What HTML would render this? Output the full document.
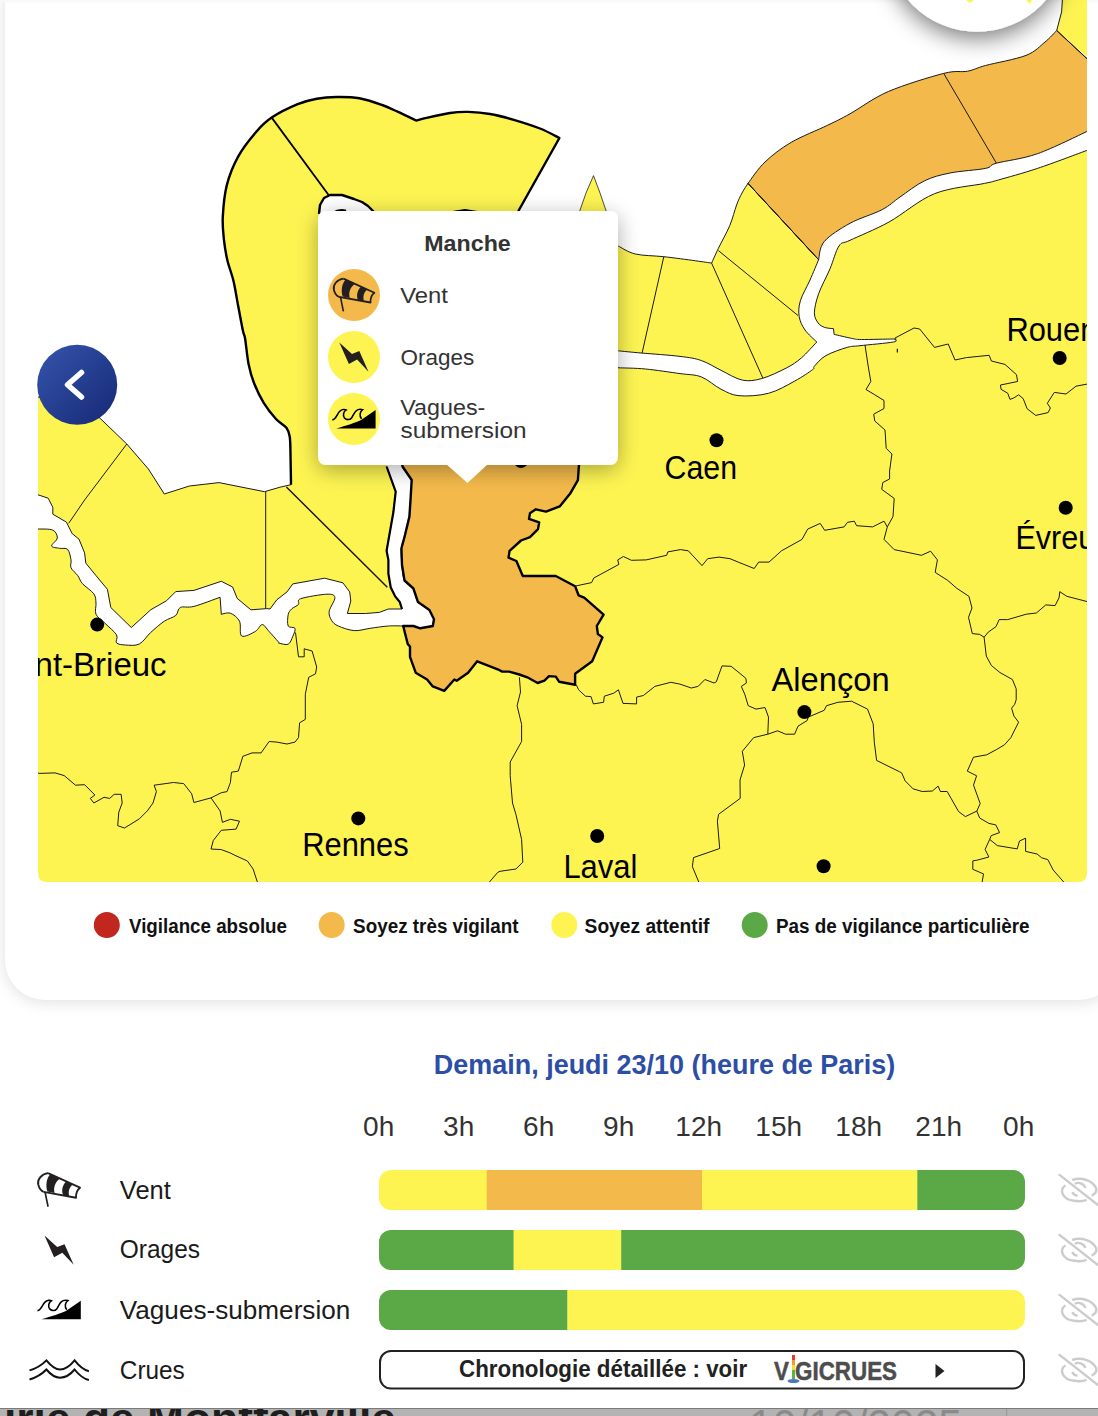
<!DOCTYPE html>
<html><head><meta charset="utf-8"><title>Vigilance</title>
<style>
html,body{margin:0;padding:0;}
body{width:1098px;height:1416px;overflow:hidden;position:relative;background:#fff;font-family:"Liberation Sans",sans-serif;}
.abs{position:absolute;left:0;top:0;}
svg text{font-family:"Liberation Sans",sans-serif;}
#leftstrip{position:absolute;left:0;top:0;width:5px;height:1000px;background:#f3f3f3;}
#topstrip{position:absolute;left:0;top:0;width:1098px;height:4px;background:linear-gradient(#f8f8f8,rgba(255,255,255,0));}
#card{position:absolute;left:5px;top:-40px;width:1114px;height:1040px;background:#fff;border-radius:40px;box-shadow:0 2px 16px rgba(0,0,0,0.13);}
</style></head>
<body>
<div id="card"></div>
<div id="topstrip"></div>
<svg class="abs" width="1098" height="1000" viewBox="0 0 1098 1000">
<defs><clipPath id="mc"><path d="M38,0 H1087 V873 Q1087,882 1078,882 H47 Q38,882 38,873 Z"/></clipPath><linearGradient id="bg1" x1="0" y1="0" x2="1" y2="1"><stop offset="0" stop-color="#3555ad"/><stop offset="1" stop-color="#162874"/></linearGradient><filter id="tsh" x="-20%" y="-20%" width="140%" height="150%"><feGaussianBlur in="SourceAlpha" stdDeviation="11"/><feOffset dy="5"/><feComponentTransfer><feFuncA type="linear" slope="0.33"/></feComponentTransfer><feMerge><feMergeNode/><feMergeNode in="SourceGraphic"/></feMerge></filter><filter id="csh" x="-50%" y="-50%" width="200%" height="200%"><feGaussianBlur in="SourceAlpha" stdDeviation="12"/><feOffset dy="6"/><feComponentTransfer><feFuncA type="linear" slope="0.55"/></feComponentTransfer><feMerge><feMergeNode/><feMergeNode in="SourceGraphic"/></feMerge></filter></defs>
<g clip-path="url(#mc)">
<path d="M38.0,529.0 C40.5,529.2 49.6,528.6 52.8,530.1 C56.0,531.6 57.5,535.4 57.3,538.0 C57.1,540.6 51.2,544.3 51.6,546.0 C52.0,547.7 56.9,547.7 59.6,548.3 C62.3,548.9 65.7,547.5 67.6,549.4 C69.5,551.3 70.4,556.7 71.0,559.7 C71.6,562.8 69.9,565.1 71.0,567.7 C72.1,570.4 75.9,573.0 77.8,575.6 C79.7,578.2 79.7,580.6 82.4,583.6 C85.1,586.6 91.5,590.6 93.8,593.8 C96.1,597.0 95.6,599.6 96.0,603.0 C96.4,606.4 94.5,610.9 96.0,614.3 C97.5,617.7 101.7,620.0 105.1,623.4 C108.5,626.8 114.6,631.6 116.5,634.8 C118.4,638.0 115.0,641.1 116.5,642.8 C118.0,644.5 121.8,644.8 125.6,645.0 C129.4,645.2 135.1,646.1 139.3,644.0 C143.5,641.9 146.5,636.3 150.7,632.5 C154.9,628.7 160.1,624.0 164.3,621.2 C168.5,618.4 173.0,617.8 175.7,615.5 C178.4,613.2 177.3,609.0 180.3,607.5 C183.3,606.0 187.3,608.1 193.9,606.4 C200.5,604.7 215.7,598.8 220.1,597.3 L221.3,614.3 C222.8,614.1 227.4,612.1 230.4,613.2 C233.4,614.4 237.6,617.4 239.5,621.2 C241.4,625.0 239.0,634.3 241.7,636.0 C244.3,637.7 252.0,633.3 255.4,631.4 C258.8,629.5 259.9,624.6 262.2,624.6 C264.5,624.6 266.3,628.5 269.0,631.4 C271.7,634.2 276.5,639.8 278.2,641.7 C279.9,643.7 277.4,642.7 279.1,643.1 C280.8,643.5 285.9,645.3 288.2,644.2 C290.5,643.1 291.7,638.9 292.8,636.3 C293.9,633.6 295.8,630.0 295.0,628.3 C294.2,626.6 289.3,628.3 288.2,626.0 C287.1,623.7 287.6,617.4 288.2,614.6 C288.8,611.8 289.9,610.7 291.6,609.0 C293.3,607.3 297.0,606.1 298.5,604.4 C300.0,602.7 296.0,600.4 300.7,598.7 C305.4,597.0 321.2,594.4 326.9,594.2 C332.6,594.0 334.5,594.8 334.9,597.6 C335.3,600.4 329.8,607.4 329.2,611.2 C328.6,615.0 330.0,617.8 331.5,620.3 C333.0,622.8 334.5,624.3 338.3,626.0 C342.1,627.7 348.9,630.2 354.2,630.6 C359.5,631.0 364.5,629.1 370.2,628.3 C375.9,627.5 382.9,626.4 388.4,626.0 C393.9,625.6 400.7,626.0 403.2,626.0 C404.9,626.0 410.5,625.6 413.4,626.0 C416.2,626.4 417.1,628.3 420.3,628.3 C423.5,628.3 430.7,626.4 432.8,626.0 C433.0,624.9 434.6,621.9 434.0,619.2 C433.4,616.5 432.1,612.9 429.4,610.0 C426.7,607.1 420.7,605.7 418.0,602.1 C415.3,598.5 415.6,592.1 413.4,588.5 C411.1,584.9 406.4,584.4 404.5,580.5 C402.6,576.6 402.5,570.3 402.0,565.0 C401.5,559.7 400.9,553.5 401.4,548.5 C401.9,543.5 403.7,540.3 405.0,535.0 C406.3,529.7 408.5,522.4 409.4,516.6 C410.3,510.8 410.1,506.1 410.5,500.0 C410.9,493.9 413.0,485.6 411.7,480.0 C410.4,474.4 404.8,473.2 402.5,466.5 C400.2,459.8 399.8,451.1 398.0,440.0 C396.2,428.9 393.7,416.7 392.0,400.0 C390.3,383.3 388.0,360.0 388.0,340.0 C388.0,320.0 388.3,296.7 392.0,280.0 C395.7,263.3 402.0,250.7 410.0,240.0 C418.0,229.3 430.8,220.8 440.0,216.0 C449.2,211.2 456.7,211.0 465.0,211.0 C473.3,211.0 480.8,212.5 490.0,216.0 C499.2,219.5 509.2,223.0 520.0,232.0 C530.8,241.0 545.8,255.3 555.0,270.0 C564.2,284.7 569.2,306.7 575.0,320.0 C580.8,333.3 584.2,344.7 590.0,350.0 C595.8,355.3 606.7,351.7 610.0,352.0 L618.2,367.8 C622.8,368.0 635.2,368.0 645.5,369.0 C655.8,370.0 670.7,372.3 680.0,373.6 C689.3,374.9 694.5,374.3 701.3,376.9 C708.1,379.5 714.7,386.1 721.0,389.2 C727.3,392.3 731.1,395.0 739.0,395.7 C746.9,396.4 759.2,395.8 768.5,393.3 C777.8,390.9 787.4,385.0 794.8,381.0 C802.2,377.0 809.5,372.0 812.8,369.5 C816.1,367.0 812.2,368.5 814.4,366.2 C816.6,363.9 820.4,358.7 825.9,355.6 C831.4,352.5 841.5,349.0 847.2,347.4 C852.9,345.8 852.3,346.6 860.0,345.7 C867.7,344.8 887.7,343.1 893.5,342.0 C899.3,340.9 894.5,339.8 894.7,339.4 C894.5,339.3 899.0,339.0 893.5,339.0 C888.0,339.0 868.5,339.6 861.5,339.5 C854.5,339.4 856.0,339.2 851.4,338.3 C846.8,337.4 837.0,335.0 834.1,334.4 L833.5,328.7 C832.0,328.5 827.1,328.3 824.6,327.4 C822.1,326.4 819.9,325.4 818.2,323.0 C816.5,320.6 814.3,317.7 814.4,312.8 C814.5,307.9 816.0,301.1 818.6,293.8 C821.2,286.5 826.6,276.8 830.0,268.8 C833.4,260.8 835.7,250.8 839.0,246.0 C842.3,241.2 841.7,244.3 850.0,240.3 C858.3,236.3 874.9,229.8 889.0,222.0 C903.1,214.2 918.6,200.1 934.5,193.7 C950.4,187.3 974.0,185.7 984.6,183.4 C995.2,181.1 989.5,182.5 998.3,180.0 C1007.1,177.5 1022.5,173.4 1037.5,168.4 C1052.5,163.4 1079.6,153.1 1088.0,150.0 L1088.0,890.0 L30.0,890.0 L30.0,529.0Z" fill="#fdf452"/>
<path d="M30,397 L38.0,397.0 L70.0,402.0 L98.3,416.6 L126.8,444.0 L148.4,469.0 L164.3,494.0 L189.4,486.0 L219.0,482.6 L264.5,491.7 L280.0,487.2 L291.0,484.7 C290.9,480.6 290.8,467.9 290.6,460.0 C290.4,452.1 290.5,442.4 289.8,437.0 C289.1,431.6 288.7,430.8 286.4,427.8 C284.1,424.8 279.8,423.2 276.0,419.0 C272.2,414.8 267.4,408.8 263.7,402.8 C260.0,396.8 256.5,389.4 254.0,383.0 C251.5,376.6 250.1,371.5 248.6,364.2 C247.1,356.9 246.1,344.7 245.2,339.2 C244.3,333.7 244.2,336.7 243.0,331.0 C241.8,325.3 239.6,313.3 238.0,305.0 C236.4,296.7 235.3,288.5 233.5,281.0 C231.7,273.5 228.9,266.8 227.3,259.9 C225.7,253.0 224.7,246.6 223.9,239.4 C223.2,232.2 222.3,225.6 222.8,216.6 C223.3,207.6 224.2,195.6 226.7,185.6 C229.2,175.6 233.1,165.7 238.0,156.8 C242.9,147.9 250.5,138.5 256.1,132.0 C261.7,125.5 264.8,122.2 271.7,117.6 C278.6,113.0 290.2,107.3 297.7,104.2 C305.2,101.1 310.3,100.0 316.8,98.8 C323.3,97.6 329.5,97.1 336.6,97.0 C343.7,96.9 351.8,96.9 359.4,98.2 C367.0,99.5 375.8,102.7 382.2,105.0 C388.6,107.3 392.3,109.3 398.0,111.9 C403.7,114.5 413.2,119.1 416.3,120.5 C418.2,120.0 422.1,118.8 427.7,117.6 C433.3,116.3 443.2,114.0 450.0,113.0 C456.8,112.0 461.6,111.7 468.3,111.9 C475.0,112.1 482.4,112.7 490.0,114.0 C497.6,115.3 505.5,117.4 513.8,119.8 C522.1,122.2 532.4,125.5 540.0,128.5 C547.6,131.5 556.2,136.4 559.4,138.0 L518.4,211.0 L500.0,240.0 L470.0,260.0 L420.0,280.0 L386.0,330.0 L382.0,400.0 L386.6,466.5 L395.7,491.6 L393.4,512.0 L386.6,550.8 L388.4,560.0 L388.4,573.7 L390.7,587.3 L395.2,596.4 L399.8,602.1 L402.0,609.0 L388.4,609.0 L379.3,612.4 L365.6,613.5 L347.4,613.5 L350.8,601.0 L349.7,591.9 L342.9,582.8 L324.6,578.2 L292.8,583.9 L287.0,591.9 L276.8,599.8 L270.0,609.0 L266.8,608.6 L250.9,609.8 L237.2,598.4 L232.6,587.0 L221.3,581.3 L193.9,590.4 L175.7,591.6 L166.6,600.7 L150.7,609.8 L131.3,627.5 L110.8,607.5 L107.4,589.3 L96.0,575.6 L85.8,563.1 L84.6,552.9 L79.0,539.2 L72.1,533.5 L66.4,522.1 L52.8,514.2 L52.8,507.3 L48.2,498.2 L38.0,494.8 L30.0,494.8Z" fill="#fdf452"/>
<path d="M600.0,246.0 L618.2,246.0 C621.1,247.3 627.7,252.2 635.3,254.0 C642.9,255.8 653.8,255.6 663.8,256.7 C673.8,257.8 687.6,259.7 695.6,260.8 C703.6,261.9 708.9,262.7 711.6,263.1 C712.7,260.6 715.4,254.6 718.4,248.3 C721.4,242.0 726.8,232.7 729.8,225.5 C732.8,218.3 734.6,210.4 736.6,205.0 C738.6,199.6 740.1,196.6 742.0,193.0 C743.9,189.4 747.0,185.0 748.0,183.4 L818.6,259.7 C817.2,263.1 813.0,273.2 810.0,280.0 C807.0,286.8 802.2,294.6 800.4,300.7 C798.6,306.8 798.4,311.7 799.2,316.6 C800.0,321.5 802.1,325.8 805.0,330.0 C807.9,334.2 814.8,340.0 816.8,342.0 C814.2,344.7 806.3,353.7 801.3,358.0 C796.2,362.3 793.1,364.5 786.5,367.9 C779.9,371.3 769.3,376.5 761.9,378.5 C754.5,380.5 749.1,381.5 742.3,380.1 C735.5,378.7 727.8,373.6 721.0,370.3 C714.2,367.0 708.1,362.8 701.3,360.5 C694.5,358.2 690.0,357.6 680.0,356.4 C670.0,355.1 651.3,353.9 641.0,353.0 C630.7,352.1 622.0,351.2 618.2,350.8 L600.0,350.0Z" fill="#fdf452"/>
<path d="M578.7,214.0 L586.0,193.0 L593.5,175.6 L600.0,193.0 L607.2,214.0Z" fill="#fdf452" stroke="#222" stroke-width="0.8"/>
<path d="M748.0,183.4 C750.8,179.8 757.8,168.8 765.0,162.0 C772.2,155.2 780.8,148.4 791.3,142.3 C801.8,136.2 817.9,130.0 827.7,125.2 C837.5,120.5 839.9,119.4 850.0,113.8 C860.1,108.2 872.8,98.2 888.4,91.5 C904.0,84.8 930.5,76.8 943.7,73.4 C956.9,70.0 960.5,72.5 967.5,71.2 C974.5,69.9 975.8,68.1 985.5,65.5 C995.2,62.9 1016.1,59.3 1026.0,55.4 C1035.9,51.5 1039.9,46.1 1045.0,42.0 C1050.1,37.9 1054.8,32.4 1056.7,30.5 L1088.0,59.5 L1088.0,131.0 C1079.6,134.8 1052.8,148.3 1037.5,153.7 C1022.2,159.1 1005.1,160.8 996.4,163.2 C987.7,165.6 993.2,166.8 985.5,168.4 C977.8,170.0 960.2,170.9 950.0,173.0 C939.8,175.1 932.8,176.8 924.5,180.8 C916.2,184.8 907.0,192.2 900.0,197.0 C893.0,201.8 890.5,205.2 882.2,209.6 C873.9,214.0 859.6,218.0 850.0,223.3 C840.4,228.6 829.5,235.4 824.3,241.5 C819.1,247.6 819.5,256.7 818.6,259.7Z" fill="#f3b94b"/>
<path d="M1056.7,30.5 L1061.6,11.9 L1062.7,-5.0 L1090.0,-5.0 L1090.0,59.5Z" fill="#fdf452"/>
<g fill="none" stroke="#1a1a1a" stroke-width="1.0" stroke-linejoin="round">
<path d="M38.0,529.0 C40.5,529.2 49.6,528.6 52.8,530.1 C56.0,531.6 57.5,535.4 57.3,538.0 C57.1,540.6 51.2,544.3 51.6,546.0 C52.0,547.7 56.9,547.7 59.6,548.3 C62.3,548.9 65.7,547.5 67.6,549.4 C69.5,551.3 70.4,556.7 71.0,559.7 C71.6,562.8 69.9,565.1 71.0,567.7 C72.1,570.4 75.9,573.0 77.8,575.6 C79.7,578.2 79.7,580.6 82.4,583.6 C85.1,586.6 91.5,590.6 93.8,593.8 C96.1,597.0 95.6,599.6 96.0,603.0 C96.4,606.4 94.5,610.9 96.0,614.3 C97.5,617.7 101.7,620.0 105.1,623.4 C108.5,626.8 114.6,631.6 116.5,634.8 C118.4,638.0 115.0,641.1 116.5,642.8 C118.0,644.5 121.8,644.8 125.6,645.0 C129.4,645.2 135.1,646.1 139.3,644.0 C143.5,641.9 146.5,636.3 150.7,632.5 C154.9,628.7 160.1,624.0 164.3,621.2 C168.5,618.4 173.0,617.8 175.7,615.5 C178.4,613.2 177.3,609.0 180.3,607.5 C183.3,606.0 187.3,608.1 193.9,606.4 C200.5,604.7 215.7,598.8 220.1,597.3 L221.3,614.3 C222.8,614.1 227.4,612.1 230.4,613.2 C233.4,614.4 237.6,617.4 239.5,621.2 C241.4,625.0 239.0,634.3 241.7,636.0 C244.3,637.7 252.0,633.3 255.4,631.4 C258.8,629.5 259.9,624.6 262.2,624.6 C264.5,624.6 266.3,628.5 269.0,631.4 C271.7,634.2 276.5,639.8 278.2,641.7 C279.9,643.7 277.4,642.7 279.1,643.1 C280.8,643.5 285.9,645.3 288.2,644.2 C290.5,643.1 291.7,638.9 292.8,636.3 C293.9,633.6 295.8,630.0 295.0,628.3 C294.2,626.6 289.3,628.3 288.2,626.0 C287.1,623.7 287.6,617.4 288.2,614.6 C288.8,611.8 289.9,610.7 291.6,609.0 C293.3,607.3 297.0,606.1 298.5,604.4 C300.0,602.7 296.0,600.4 300.7,598.7 C305.4,597.0 321.2,594.4 326.9,594.2 C332.6,594.0 334.5,594.8 334.9,597.6 C335.3,600.4 329.8,607.4 329.2,611.2 C328.6,615.0 330.0,617.8 331.5,620.3 C333.0,622.8 334.5,624.3 338.3,626.0 C342.1,627.7 348.9,630.2 354.2,630.6 C359.5,631.0 364.5,629.1 370.2,628.3 C375.9,627.5 382.9,626.4 388.4,626.0 C393.9,625.6 400.7,626.0 403.2,626.0 C404.9,626.0 410.5,625.6 413.4,626.0 C416.2,626.4 417.1,628.3 420.3,628.3 C423.5,628.3 430.7,626.4 432.8,626.0 C433.0,624.9 434.6,621.9 434.0,619.2 C433.4,616.5 432.1,612.9 429.4,610.0 C426.7,607.1 420.7,605.7 418.0,602.1 C415.3,598.5 415.6,592.1 413.4,588.5 C411.1,584.9 406.4,584.4 404.5,580.5 C402.6,576.6 402.5,570.3 402.0,565.0 C401.5,559.7 400.9,553.5 401.4,548.5 C401.9,543.5 403.7,540.3 405.0,535.0 C406.3,529.7 408.5,522.4 409.4,516.6 C410.3,510.8 410.1,506.1 410.5,500.0 C410.9,493.9 413.0,485.6 411.7,480.0 C410.4,474.4 404.8,473.2 402.5,466.5 C400.2,459.8 399.8,451.1 398.0,440.0 C396.2,428.9 393.7,416.7 392.0,400.0 C390.3,383.3 388.0,360.0 388.0,340.0 C388.0,320.0 388.3,296.7 392.0,280.0 C395.7,263.3 402.0,250.7 410.0,240.0 C418.0,229.3 430.8,220.8 440.0,216.0 C449.2,211.2 456.7,211.0 465.0,211.0 C473.3,211.0 480.8,212.5 490.0,216.0 C499.2,219.5 509.2,223.0 520.0,232.0 C530.8,241.0 545.8,255.3 555.0,270.0 C564.2,284.7 569.2,306.7 575.0,320.0 C580.8,333.3 584.2,344.7 590.0,350.0 C595.8,355.3 606.7,351.7 610.0,352.0 L618.2,367.8 C622.8,368.0 635.2,368.0 645.5,369.0 C655.8,370.0 670.7,372.3 680.0,373.6 C689.3,374.9 694.5,374.3 701.3,376.9 C708.1,379.5 714.7,386.1 721.0,389.2 C727.3,392.3 731.1,395.0 739.0,395.7 C746.9,396.4 759.2,395.8 768.5,393.3 C777.8,390.9 787.4,385.0 794.8,381.0 C802.2,377.0 809.5,372.0 812.8,369.5 C816.1,367.0 812.2,368.5 814.4,366.2 C816.6,363.9 820.4,358.7 825.9,355.6 C831.4,352.5 841.5,349.0 847.2,347.4 C852.9,345.8 852.3,346.6 860.0,345.7 C867.7,344.8 887.7,343.1 893.5,342.0 C899.3,340.9 894.5,339.8 894.7,339.4 C894.5,339.3 899.0,339.0 893.5,339.0 C888.0,339.0 868.5,339.6 861.5,339.5 C854.5,339.4 856.0,339.2 851.4,338.3 C846.8,337.4 837.0,335.0 834.1,334.4 L833.5,328.7 C832.0,328.5 827.1,328.3 824.6,327.4 C822.1,326.4 819.9,325.4 818.2,323.0 C816.5,320.6 814.3,317.7 814.4,312.8 C814.5,307.9 816.0,301.1 818.6,293.8 C821.2,286.5 826.6,276.8 830.0,268.8 C833.4,260.8 835.7,250.8 839.0,246.0 C842.3,241.2 841.7,244.3 850.0,240.3 C858.3,236.3 874.9,229.8 889.0,222.0 C903.1,214.2 918.6,200.1 934.5,193.7 C950.4,187.3 974.0,185.7 984.6,183.4 C995.2,181.1 989.5,182.5 998.3,180.0 C1007.1,177.5 1022.5,173.4 1037.5,168.4 C1052.5,163.4 1079.6,153.1 1088.0,150.0"/>
<path d="M618.2,246.0 C621.1,247.3 627.7,252.2 635.3,254.0 C642.9,255.8 653.8,255.6 663.8,256.7 C673.8,257.8 687.6,259.7 695.6,260.8 C703.6,261.9 708.9,262.7 711.6,263.1 C712.7,260.6 715.4,254.6 718.4,248.3 C721.4,242.0 726.8,232.7 729.8,225.5 C732.8,218.3 734.6,210.4 736.6,205.0 C738.6,199.6 740.1,196.6 742.0,193.0 C743.9,189.4 747.0,185.0 748.0,183.4 L818.6,259.7 C817.2,263.1 813.0,273.2 810.0,280.0 C807.0,286.8 802.2,294.6 800.4,300.7 C798.6,306.8 798.4,311.7 799.2,316.6 C800.0,321.5 802.1,325.8 805.0,330.0 C807.9,334.2 814.8,340.0 816.8,342.0 C814.2,344.7 806.3,353.7 801.3,358.0 C796.2,362.3 793.1,364.5 786.5,367.9 C779.9,371.3 769.3,376.5 761.9,378.5 C754.5,380.5 749.1,381.5 742.3,380.1 C735.5,378.7 727.8,373.6 721.0,370.3 C714.2,367.0 708.1,362.8 701.3,360.5 C694.5,358.2 690.0,357.6 680.0,356.4 C670.0,355.1 651.3,353.9 641.0,353.0 C630.7,352.1 622.0,351.2 618.2,350.8"/>
<path d="M748.0,183.4 C750.8,179.8 757.8,168.8 765.0,162.0 C772.2,155.2 780.8,148.4 791.3,142.3 C801.8,136.2 817.9,130.0 827.7,125.2 C837.5,120.5 839.9,119.4 850.0,113.8 C860.1,108.2 872.8,98.2 888.4,91.5 C904.0,84.8 930.5,76.8 943.7,73.4 C956.9,70.0 960.5,72.5 967.5,71.2 C974.5,69.9 975.8,68.1 985.5,65.5 C995.2,62.9 1016.1,59.3 1026.0,55.4 C1035.9,51.5 1039.9,46.1 1045.0,42.0 C1050.1,37.9 1054.8,32.4 1056.7,30.5 L1088.0,59.5 L1088.0,131.0 C1079.6,134.8 1052.8,148.3 1037.5,153.7 C1022.2,159.1 1005.1,160.8 996.4,163.2 C987.7,165.6 993.2,166.8 985.5,168.4 C977.8,170.0 960.2,170.9 950.0,173.0 C939.8,175.1 932.8,176.8 924.5,180.8 C916.2,184.8 907.0,192.2 900.0,197.0 C893.0,201.8 890.5,205.2 882.2,209.6 C873.9,214.0 859.6,218.0 850.0,223.3 C840.4,228.6 829.5,235.4 824.3,241.5 C819.1,247.6 819.5,256.7 818.6,259.7Z"/>
<path d="M38.0,397.0 L70.0,402.0 L98.3,416.6 L126.8,444.0 L148.4,469.0 L164.3,494.0 L189.4,486.0 L219.0,482.6 L264.5,491.7 L280.0,487.2 L291.0,484.7"/>
<path d="M386.6,466.5 L395.7,491.6 L393.4,512.0 L386.6,550.8 L388.4,560.0 L388.4,573.7 L390.7,587.3 L395.2,596.4 L399.8,602.1 L402.0,609.0 L388.4,609.0 L379.3,612.4 L365.6,613.5 L347.4,613.5 L350.8,601.0 L349.7,591.9 L342.9,582.8 L324.6,578.2 L292.8,583.9 L287.0,591.9 L276.8,599.8 L270.0,609.0 L266.8,608.6 L250.9,609.8 L237.2,598.4 L232.6,587.0 L221.3,581.3 L193.9,590.4 L175.7,591.6 L166.6,600.7 L150.7,609.8 L131.3,627.5 L110.8,607.5 L107.4,589.3 L96.0,575.6 L85.8,563.1 L84.6,552.9 L79.0,539.2 L72.1,533.5 L66.4,522.1 L52.8,514.2 L52.8,507.3 L48.2,498.2 L38.0,494.8 L30.0,494.8"/>
<path d="M1056.7,30.5 L1061.6,11.9 L1062.7,-5.0"/>
<path d="M126.8,444.0 L84.6,500.0 L68.7,523.3"/>
<path d="M265.7,491.5 L265.7,608.6"/>
<path d="M663.8,256.7 L642.1,353.0"/>
<path d="M711.6,263.1 L762.8,378.0"/>
<path d="M718.4,250.6 L798.0,315.5"/>
<path d="M748.0,183.4 L818.6,259.7"/>
<path d="M943.7,73.4 L996.4,163.2"/>
<path d="M1056.7,30.5 L1087.0,58.8"/>
<path d="M575.6,586.0 L591.6,582.6 L593.8,578.0 L618.9,564.4 L617.7,559.9 L623.4,556.5 L631.4,560.3 L646.2,559.9 L666.7,555.3 L667.8,551.9 L680.4,549.6 L688.3,550.8 L702.0,565.6 L707.7,558.7 L719.0,557.1 L730.0,558.7 L738.2,562.1 L754.2,568.5 L758.7,562.1 L769.0,562.1 L781.5,550.8 L802.0,539.4 L807.7,529.1 L820.2,523.4 L824.7,530.3 L844.1,526.9 L847.5,522.3 L854.3,521.2 L856.6,525.7 L872.6,526.9 L884.0,521.2 L887.3,526.9"/>
<path d="M865.0,345.0 L868.0,365.0 L870.8,381.5 L866.0,389.5 L874.8,394.8 L884.0,400.5 L884.0,408.5 L873.7,414.2 L874.8,421.0 L885.0,430.0 L886.2,448.3 L891.9,454.0 L889.6,471.0 L889.6,479.0 L882.8,482.5 L881.7,489.3 L894.2,498.4 L893.0,516.6 L887.3,526.9 L884.0,539.4 L894.2,549.6 L921.5,555.3 L930.6,551.2 L937.4,559.9 L935.2,572.4 L947.7,580.4 L956.8,588.3 L968.9,596.3 L972.0,608.0 L968.5,617.3 L972.3,633.6 L979.7,634.4 L984.1,637.2 L986.3,656.1 L991.4,665.5 L999.9,672.5 L1012.4,679.5 L1016.2,688.8 L1016.2,699.7 L1014.7,704.3 L1011.6,708.2 L1013.9,716.0 L1018.6,722.2 L1010.8,737.7 L1004.6,744.7 L996.8,749.4 L986.7,754.8 L973.5,757.2 L967.3,771.1 L976.6,775.8 L973.5,785.1 L980.2,803.6 L976.8,811.1 L979.7,818.0 L988.9,823.4 L995.8,824.9 L999.6,832.6 L991.2,835.6 L989.7,839.4 L985.1,849.4 L988.9,857.0 L977.4,860.1 L972.8,860.9 L972.8,869.3 L983.5,873.9 L982.0,883.0"/>
<path d="M989.7,839.4 L997.3,845.6 L1017.2,848.9 L1019.5,841.0 L1025.6,838.2 L1025.6,851.4 L1037.1,854.0 L1041.7,857.8 L1047.8,859.6 L1053.2,870.0 L1064.6,883.0"/>
<path d="M984.1,637.2 L988.3,632.1 L996.0,626.6 L999.2,619.6 L1007.7,619.6 L1026.3,614.2 L1036.4,613.0 L1045.8,604.9 L1055.1,605.6 L1059.0,597.9 L1059.8,591.7 L1066.8,596.3 L1088.0,601.8"/>
<path d="M894.7,338.2 L914.0,328.0 L919.7,329.0 L934.5,347.4 L948.2,344.0 L955.0,360.0 L966.4,357.6 L989.2,355.3 L991.4,361.0 L1005.0,364.4 L1016.5,374.7 L1017.6,381.5 L1000.5,385.0 L1001.0,389.3 L1007.7,393.2 L1010.0,399.4 L1013.9,397.9 L1018.6,394.8 L1023.2,398.6 L1027.1,408.7 L1035.7,415.4 L1048.1,412.6 L1050.4,408.0 L1047.3,403.3 L1054.3,392.4 L1066.0,394.0 L1076.0,386.2 L1088.0,383.9"/>
<path d="M576.3,684.8 L578.6,689.8 L585.4,696.2 L591.0,696.6 L593.4,703.9 L603.6,702.3 L604.3,696.2 L613.8,693.2 L618.4,689.8 L623.0,703.4 L636.6,703.9 L636.6,697.1 L643.4,695.5 L654.8,686.4 L670.8,682.3 L679.9,684.1 L691.3,688.0 L698.1,686.4 L704.9,679.5 L714.0,683.0 L716.3,681.8 L722.0,665.9 L731.1,666.3 L739.1,672.7 L745.9,678.4 L746.4,683.0 L741.3,686.4 L744.8,694.3 L748.2,705.7 L756.0,709.1 L765.0,707.5 L768.5,717.1 L767.8,734.2 L777.6,730.8 L785.5,734.2 L794.6,734.2 L798.0,726.2 L807.2,720.5 L808.3,717.1 L824.2,710.3 L826.5,705.7 L837.9,702.3 L851.6,701.2 L867.5,709.1 L873.2,723.9 L874.3,742.2 L876.6,760.4 L899.4,771.7 L901.7,772.9 L905.1,780.8 L913.0,788.8 L922.2,791.5 L932.4,791.0 L938.1,786.1 L940.4,791.5 L947.2,791.5 L958.6,811.6 L965.4,816.6 L976.8,811.1"/>
<path d="M767.8,734.2 L753.7,737.6 L742.3,751.3 L744.6,765.0 L740.0,780.0 L740.2,798.4 L718.6,814.3 L717.4,821.2 L719.7,848.5 L693.5,857.6 L692.4,866.7 L699.2,883.0"/>
<path d="M519.4,677.3 L520.5,692.0 L517.1,705.7 L521.6,724.4 L521.6,741.5 L510.2,762.0 L510.2,775.6 L512.5,803.0 L515.9,814.3 L521.6,839.4 L522.8,862.2 L515.9,869.0 L500.0,871.3 L497.7,872.4 L488.6,883.0"/>
<path d="M30.0,770.0 L39.1,773.4 L55.0,772.9 L64.2,775.6 L75.5,785.2 L84.6,784.7 L94.9,795.0 L90.3,798.4 L93.8,803.0 L104.0,797.3 L109.7,798.4 L114.2,794.3 L121.1,794.3 L122.2,803.0 L118.8,812.1 L117.7,825.7 L124.5,828.0 L139.3,818.9 L147.3,810.9 L153.0,803.0 L156.4,791.6 L154.1,785.2 L173.4,782.5 L183.7,783.6 L191.7,793.8 L193.9,802.5 L211.0,797.9 L221.3,792.7 L227.0,791.6 L230.4,782.5 L231.5,772.2 L238.3,771.1 L242.9,756.3 L252.0,752.9 L261.1,752.9 L269.1,741.5 L276.8,742.1 L287.0,744.0 L295.0,742.1 L298.5,737.6 L299.6,722.8 L305.3,719.4 L305.3,694.3 L308.7,677.3 L315.5,673.8 L316.7,667.0 L312.1,651.0 L304.2,648.8 L304.2,656.8 L298.5,656.8 L295.5,632.5"/>
<path d="M211.0,797.9 L220.1,810.9 L222.4,822.3 L230.4,819.3 L239.5,821.2 L236.1,829.1 L221.3,830.3 L213.3,840.5 L211.0,849.0 L221.3,849.6 L230.4,853.0 L234.9,855.3 L247.4,861.0 L253.1,869.0 L257.7,883.0"/>
</g>
<path d="M403.2,626.0 L407.8,644.2 L410.0,646.5 L410.0,656.8 L415.7,672.7 L427.1,679.5 L432.8,686.4 L444.2,690.9 L454.4,679.5 L456.7,680.7 L468.1,672.7 L477.2,661.3 L497.7,669.3 L502.2,671.6 L509.1,671.6 L519.4,674.5 L527.3,677.3 L537.6,683.0 L544.4,680.7 L549.0,676.1 L555.8,676.6 L559.2,681.8 L575.1,684.8 L575.1,673.8 L592.2,661.3 L602.5,637.4 L597.9,634.0 L596.8,626.0 L603.6,614.6 L584.2,597.6 L578.6,595.3 L575.1,586.2 L555.8,576.0 L522.8,576.0 L516.4,561.0 L508.5,557.6 L509.6,550.8 L521.0,540.5 L530.0,537.1 L538.0,529.1 L539.2,522.3 L529.0,518.9 L530.0,513.2 L535.8,509.3 L546.0,511.6 L559.7,506.4 L570.0,493.8 L577.9,480.2 L579.0,464.7 L583.0,430.0 L580.0,380.0 L565.0,320.0 L540.0,270.0 L510.0,235.0 L485.0,213.5 L465.0,210.2 L445.0,213.5 L415.0,235.0 L398.0,280.0 L394.0,340.0 L396.0,400.0 L400.0,440.0 L402.5,466.5 L411.7,480.0 L410.5,500.0 L409.4,516.6 L405.0,535.0 L401.4,548.5 L402.0,565.0 L404.5,580.5 L413.4,588.5 L418.0,602.1 L429.4,610.0 L434.0,619.2 L432.8,626.0 L420.3,628.3 L413.4,626.0Z" fill="#f3b94b" stroke="#000" stroke-width="2.4" stroke-linejoin="round"/>
<path d="M291,484.7 C290.9,480.6 290.8,467.9 290.6,460.0 C290.4,452.1 290.5,442.4 289.8,437.0 C289.1,431.6 288.7,430.8 286.4,427.8 C284.1,424.8 279.8,423.2 276.0,419.0 C272.2,414.8 267.4,408.8 263.7,402.8 C260.0,396.8 256.5,389.4 254.0,383.0 C251.5,376.6 250.1,371.5 248.6,364.2 C247.1,356.9 246.1,344.7 245.2,339.2 C244.3,333.7 244.2,336.7 243.0,331.0 C241.8,325.3 239.6,313.3 238.0,305.0 C236.4,296.7 235.3,288.5 233.5,281.0 C231.7,273.5 228.9,266.8 227.3,259.9 C225.7,253.0 224.7,246.6 223.9,239.4 C223.2,232.2 222.3,225.6 222.8,216.6 C223.3,207.6 224.2,195.6 226.7,185.6 C229.2,175.6 233.1,165.7 238.0,156.8 C242.9,147.9 250.5,138.5 256.1,132.0 C261.7,125.5 264.8,122.2 271.7,117.6 C278.6,113.0 290.2,107.3 297.7,104.2 C305.2,101.1 310.3,100.0 316.8,98.8 C323.3,97.6 329.5,97.1 336.6,97.0 C343.7,96.9 351.8,96.9 359.4,98.2 C367.0,99.5 375.8,102.7 382.2,105.0 C388.6,107.3 392.3,109.3 398.0,111.9 C403.7,114.5 413.2,119.1 416.3,120.5 C418.2,120.0 422.1,118.8 427.7,117.6 C433.3,116.3 443.2,114.0 450.0,113.0 C456.8,112.0 461.6,111.7 468.3,111.9 C475.0,112.1 482.4,112.7 490.0,114.0 C497.6,115.3 505.5,117.4 513.8,119.8 C522.1,122.2 532.4,125.5 540.0,128.5 C547.6,131.5 556.2,136.4 559.4,138.0 L518.4,211 L505,235" fill="none" stroke="#000" stroke-width="2.4" stroke-linejoin="round"/>
<path d="M319.0,214.0 L320.0,205.0 L324.0,198.0 L330.0,195.0 L342.0,195.0 L354.0,199.0 L362.0,202.0 L368.0,206.0 L376.0,214.0" fill="#fff" stroke="#000" stroke-width="2.4" stroke-linejoin="round"/>
<path d="M286.4,487 L387.3,587.3" stroke="#111" stroke-width="1.4" fill="none"/>
<path d="M271.7,117.6 L328.6,195" stroke="#000" stroke-width="1.8" fill="none"/>
<path d="M386.6,466.5 L395.7,491.6 L393.4,512.0 L386.6,550.8 L388.4,560.0 L388.4,573.7 L390.7,587.3 L395.2,596.4 L399.8,602.1 L402.0,609.0" fill="none" stroke="#000" stroke-width="2.2"/>
<path d="M897.3,348.8 V352.6" stroke="#000" stroke-width="1.1"/>
<path d="M333,213 Q339,209 346,210.8" stroke="#000" stroke-width="2.4" fill="none"/>
<circle cx="521" cy="461" r="7" fill="#000"/>
<circle cx="716.5" cy="440.3" r="7" fill="#000"/>
<circle cx="1059.7" cy="358" r="7" fill="#000"/>
<circle cx="1065.7" cy="507.7" r="7" fill="#000"/>
<circle cx="97.2" cy="624.6" r="7" fill="#000"/>
<circle cx="804.4" cy="712.1" r="7" fill="#000"/>
<circle cx="358.3" cy="818.4" r="7" fill="#000"/>
<circle cx="597.2" cy="836" r="7" fill="#000"/>
<circle cx="823.6" cy="866.2" r="7" fill="#000"/>
<text x="1006.4" y="341" font-size="33" fill="#000" textLength="91" lengthAdjust="spacingAndGlyphs">Rouen</text>
<text x="664.6" y="479" font-size="33" fill="#000" textLength="72.5" lengthAdjust="spacingAndGlyphs">Caen</text>
<text x="1015.5" y="549" font-size="33" fill="#000" textLength="95" lengthAdjust="spacingAndGlyphs">Évreux</text>
<text x="166.6" y="675.8" text-anchor="end" font-size="33" fill="#000">Saint-Brieuc</text>
<text x="771.6" y="691.2" font-size="33" fill="#000" textLength="118" lengthAdjust="spacingAndGlyphs">Alençon</text>
<text x="302.2" y="856.2" font-size="33" fill="#000" textLength="106.5" lengthAdjust="spacingAndGlyphs">Rennes</text>
<text x="563.4" y="878" font-size="33" fill="#000" textLength="74" lengthAdjust="spacingAndGlyphs">Laval</text>
</g>
<circle cx="977" cy="-59" r="90.7" fill="#fff" filter="url(#csh)"/>
<path d="M966,0 L970,3 L974,0Z M1026,0 L1030,4 L1032,0Z" fill="#fdf452"/>
<circle cx="77.2" cy="384.7" r="40" fill="url(#bg1)"/>
<path d="M81.5,372.5 L67.5,384.7 L81.5,397" fill="none" stroke="#fff" stroke-width="5.5" stroke-linecap="round" stroke-linejoin="round"/>
<g filter="url(#tsh)"><rect x="318" y="211" width="300" height="254" rx="8" fill="#fff"/></g>
<path d="M446,464 L488,464 L467.5,483Z" fill="#fff"/>
<text x="467.5" y="250.5" text-anchor="middle" font-size="22.5" font-weight="bold" fill="#333" textLength="86.5" lengthAdjust="spacingAndGlyphs">Manche</text><circle cx="354" cy="295" r="26" fill="#f3b94b"/><g transform="translate(354,295) scale(1.0)"><path d="M-10.6,-16.4 L20.4,-2.3 Q16.2,0.8 16.5,7.5 L-14.9,1.8" fill="none" stroke="#231f20" stroke-width="1.8" stroke-linejoin="round"/><path d="M-10.6,-16.4 C-17,-15.5 -21.5,-10 -20.1,-5 C-19,-1 -17,1.2 -14.9,1.8" fill="none" stroke="#231f20" stroke-width="1.8"/><path d="M-8.5,-15.3 C-12.5,-11 -13,-4 -11.3,1.5 L-4.2,2.9 C-5.5,-1.5 -4.5,-7.5 1.5,-11.4Z" fill="#231f20"/><path d="M7,-8.2 C3.5,-5 2.2,0 3.8,4.7 L9.9,6 C8.8,1.5 9.8,-2.5 13.3,-5.4Z" fill="#231f20"/><path d="M-13.5,2.2 L-10.6,16.3" stroke="#231f20" stroke-width="1.6"/></g><circle cx="354" cy="357" r="26" fill="#fdf452"/><g transform="translate(354,357) scale(1.0)"><path d="M-14.7,-14.5 L-2,-3.1 L5.3,-5.9 L14.5,14.7 L3.1,2.6 L-5.1,7.1Z" fill="#231f20"/></g><circle cx="354" cy="419" r="26" fill="#fdf452"/><g transform="translate(354,419) scale(1.0)"><path d="M-21.7,0.9 C-18,0.5 -17,-5 -14.5,-7.5 C-12,-10 -9,-9.8 -7.8,-9.1 C-10.5,-7.5 -11.5,-3.5 -9.5,-1 C-7.5,1.2 -4,1 -2.5,-1 C-1,-3 0,-6 2,-8 C4,-9.8 7,-9.8 8.6,-9.3 C6,-7.5 5,-3 7.6,-0.1" fill="none" stroke="#000" stroke-width="1.6"/><path d="M-17.7,9.4 C-8,6.5 2,3.5 7.1,0.9 L21.6,-9.1 L21.6,9.4 Z" fill="#000"/></g><g font-size="22.5" fill="#333"><text x="400.2" y="302.7" textLength="47.7" lengthAdjust="spacingAndGlyphs">Vent</text><text x="400.6" y="364.6" textLength="73.7" lengthAdjust="spacingAndGlyphs">Orages</text><text x="400.3" y="415.2" textLength="85" lengthAdjust="spacingAndGlyphs">Vagues-</text><text x="400.6" y="438.4" textLength="126" lengthAdjust="spacingAndGlyphs">submersion</text></g>
</svg>
<svg class="abs" width="1098" height="1416" viewBox="0 0 1098 1416" style="pointer-events:none">
<g font-size="20" font-weight="bold" fill="#111">
<circle cx="106.8" cy="925" r="13" fill="#c1271e"/>
<text x="129" y="933.2" textLength="158" lengthAdjust="spacingAndGlyphs">Vigilance absolue</text>
<circle cx="331.7" cy="925" r="13" fill="#f3b94b"/>
<text x="353.1" y="933.2" textLength="165.5" lengthAdjust="spacingAndGlyphs">Soyez très vigilant</text>
<circle cx="564.3" cy="925" r="13" fill="#fdf452"/>
<text x="584.6" y="933.2" textLength="124.8" lengthAdjust="spacingAndGlyphs">Soyez attentif</text>
<circle cx="754.7" cy="925" r="13" fill="#5aa846"/>
<text x="775.9" y="933.2" textLength="253.6" lengthAdjust="spacingAndGlyphs">Pas de vigilance particulière</text>
</g>
<text x="433.8" y="1074.4" font-size="27" font-weight="bold" fill="#2d4ea6" textLength="461.5" lengthAdjust="spacingAndGlyphs">Demain, jeudi 23/10 (heure de Paris)</text>
<g font-size="28" fill="#333" text-anchor="middle">
<text x="378.7" y="1136.2">0h</text>
<text x="458.7" y="1136.2">3h</text>
<text x="538.7" y="1136.2">6h</text>
<text x="618.7" y="1136.2">9h</text>
<text x="698.7" y="1136.2">12h</text>
<text x="778.7" y="1136.2">15h</text>
<text x="858.7" y="1136.2">18h</text>
<text x="938.7" y="1136.2">21h</text>
<text x="1018.7" y="1136.2">0h</text>
</g>
<g font-size="26" fill="#1a1a1a">
<text x="119.8" y="1198.8" textLength="51" lengthAdjust="spacingAndGlyphs">Vent</text>
<text x="119.8" y="1258.4" textLength="80.2" lengthAdjust="spacingAndGlyphs">Orages</text>
<text x="119.8" y="1318.7" textLength="230.5" lengthAdjust="spacingAndGlyphs">Vagues-submersion</text>
<text x="119.8" y="1378.6" textLength="65" lengthAdjust="spacingAndGlyphs">Crues</text>
</g>
<g transform="translate(59,1190) scale(1.03)"><path d="M-10.6,-16.4 L20.4,-2.3 Q16.2,0.8 16.5,7.5 L-14.9,1.8" fill="none" stroke="#231f20" stroke-width="1.8" stroke-linejoin="round"/><path d="M-10.6,-16.4 C-17,-15.5 -21.5,-10 -20.1,-5 C-19,-1 -17,1.2 -14.9,1.8" fill="none" stroke="#231f20" stroke-width="1.8"/><path d="M-8.5,-15.3 C-12.5,-11 -13,-4 -11.3,1.5 L-4.2,2.9 C-5.5,-1.5 -4.5,-7.5 1.5,-11.4Z" fill="#231f20"/><path d="M7,-8.2 C3.5,-5 2.2,0 3.8,4.7 L9.9,6 C8.8,1.5 9.8,-2.5 13.3,-5.4Z" fill="#231f20"/><path d="M-13.5,2.2 L-10.6,16.3" stroke="#231f20" stroke-width="1.6"/></g>
<g transform="translate(59.2,1250.1) scale(1.0)"><path d="M-14.7,-14.5 L-2,-3.1 L5.3,-5.9 L14.5,14.7 L3.1,2.6 L-5.1,7.1Z" fill="#231f20"/></g>
<g transform="translate(59.2,1309.9) scale(1.0)"><path d="M-21.7,0.9 C-18,0.5 -17,-5 -14.5,-7.5 C-12,-10 -9,-9.8 -7.8,-9.1 C-10.5,-7.5 -11.5,-3.5 -9.5,-1 C-7.5,1.2 -4,1 -2.5,-1 C-1,-3 0,-6 2,-8 C4,-9.8 7,-9.8 8.6,-9.3 C6,-7.5 5,-3 7.6,-0.1" fill="none" stroke="#000" stroke-width="1.6"/><path d="M-17.7,9.4 C-8,6.5 2,3.5 7.1,0.9 L21.6,-9.1 L21.6,9.4 Z" fill="#000"/></g>
<path d="M29.5,1370.4 C38,1368 42,1365 46.4,1360.4 C51,1366 55,1369.5 60,1369.5 C66,1369.5 70,1366 74.6,1360.4 C79,1366 84,1370 88.9,1371.3" fill="none" stroke="#111" stroke-width="2"/>
<path d="M29.5,1379.5 C38,1377 42,1374 46.4,1369.5 C51,1375 55,1377.7 60,1377.7 C66,1377.7 70,1375 74.6,1369.5 C79,1375 84,1379 88.9,1380" fill="none" stroke="#111" stroke-width="2"/>
<clipPath id="cb1170"><rect x="379" y="1170" width="646" height="40" rx="12"/></clipPath><g clip-path="url(#cb1170)"><rect x="379.0" y="1170" width="108.0" height="40" fill="#fdf452"/><rect x="486.7" y="1170" width="215.6" height="40" fill="#f3b94b"/><rect x="702.0" y="1170" width="215.6" height="40" fill="#fdf452"/><rect x="917.3" y="1170" width="108.0" height="40" fill="#5aa846"/></g>
<clipPath id="cb1230"><rect x="379" y="1230" width="646" height="40" rx="12"/></clipPath><g clip-path="url(#cb1230)"><rect x="379.0" y="1230" width="134.9" height="40" fill="#5aa846"/><rect x="513.6" y="1230" width="108.0" height="40" fill="#fdf452"/><rect x="621.2" y="1230" width="404.1" height="40" fill="#5aa846"/></g>
<clipPath id="cb1290"><rect x="379" y="1290" width="646" height="40" rx="12"/></clipPath><g clip-path="url(#cb1290)"><rect x="379.0" y="1290" width="188.7" height="40" fill="#5aa846"/><rect x="567.4" y="1290" width="457.9" height="40" fill="#fdf452"/></g>
<rect x="380" y="1351" width="644" height="37.6" rx="11" fill="#fff" stroke="#222" stroke-width="2"/>
<text x="459" y="1376.6" font-size="24.5" font-weight="bold" fill="#222" textLength="288.2" lengthAdjust="spacingAndGlyphs">Chronologie détaillée : voir</text>
<text x="774" y="1380" font-size="25" font-weight="bold" fill="#4d4d4d" stroke="#4d4d4d" stroke-width="0.5" textLength="123" lengthAdjust="spacingAndGlyphs">V GICRUES</text>
<ellipse cx="793.5" cy="1381" rx="6" ry="2" fill="#4a78c0"/>
<rect x="792" y="1355" width="3" height="5" fill="#e53b2c"/><rect x="792" y="1360" width="3" height="5" fill="#f39a2c"/><rect x="792" y="1365" width="3" height="5" fill="#f5dd2a"/><rect x="792" y="1370" width="3" height="9" fill="#5bb246"/>
<path d="M935.5,1364 L944.5,1371 L935.5,1378Z" fill="#222"/>
<g transform="translate(1079,1190)" fill="none" stroke="#cccccc" stroke-width="2.4" stroke-linecap="butt"><path d="M-13.6,-4.6 C-20,0 -17,9 -5,10.8 C0,11.5 5,11 7.6,9.9"/><path d="M-6.8,-10 C3,-13.5 14,-9 17,-2 C18,1 16,4 12.7,5.6"/><path d="M-4.2,-6.3 C0,-8.5 5.5,-6 6.3,-2"/><path d="M-6.8,2.2 C-5.5,4.5 -3.5,5.6 -1.5,5.8"/><path d="M-19.5,-15.1 L18.7,14.9" stroke-linecap="round"/></g>
<g transform="translate(1079,1250)" fill="none" stroke="#cccccc" stroke-width="2.4" stroke-linecap="butt"><path d="M-13.6,-4.6 C-20,0 -17,9 -5,10.8 C0,11.5 5,11 7.6,9.9"/><path d="M-6.8,-10 C3,-13.5 14,-9 17,-2 C18,1 16,4 12.7,5.6"/><path d="M-4.2,-6.3 C0,-8.5 5.5,-6 6.3,-2"/><path d="M-6.8,2.2 C-5.5,4.5 -3.5,5.6 -1.5,5.8"/><path d="M-19.5,-15.1 L18.7,14.9" stroke-linecap="round"/></g>
<g transform="translate(1079,1310)" fill="none" stroke="#cccccc" stroke-width="2.4" stroke-linecap="butt"><path d="M-13.6,-4.6 C-20,0 -17,9 -5,10.8 C0,11.5 5,11 7.6,9.9"/><path d="M-6.8,-10 C3,-13.5 14,-9 17,-2 C18,1 16,4 12.7,5.6"/><path d="M-4.2,-6.3 C0,-8.5 5.5,-6 6.3,-2"/><path d="M-6.8,2.2 C-5.5,4.5 -3.5,5.6 -1.5,5.8"/><path d="M-19.5,-15.1 L18.7,14.9" stroke-linecap="round"/></g>
<g transform="translate(1079,1370)" fill="none" stroke="#cccccc" stroke-width="2.4" stroke-linecap="butt"><path d="M-13.6,-4.6 C-20,0 -17,9 -5,10.8 C0,11.5 5,11 7.6,9.9"/><path d="M-6.8,-10 C3,-13.5 14,-9 17,-2 C18,1 16,4 12.7,5.6"/><path d="M-4.2,-6.3 C0,-8.5 5.5,-6 6.3,-2"/><path d="M-6.8,2.2 C-5.5,4.5 -3.5,5.6 -1.5,5.8"/><path d="M-19.5,-15.1 L18.7,14.9" stroke-linecap="round"/></g>
<rect x="0" y="1408.5" width="1098" height="9" fill="#b3b3b3"/>
<rect x="0" y="1408" width="1098" height="1" fill="#7a7a7a"/>
<rect x="1006" y="1409" width="1.2" height="9" fill="#9a9a9a"/>
<clipPath id="bb"><rect x="0" y="1409" width="1098" height="10"/></clipPath><g clip-path="url(#bb)">
<text x="4" y="1434" font-size="44" font-weight="bold" fill="#1e1e1e" textLength="392" lengthAdjust="spacingAndGlyphs">irie de Montfarville</text>
<text x="749" y="1441" font-size="44" fill="#8a8a8a" textLength="213" lengthAdjust="spacingAndGlyphs">10/10/2025</text>
</g>
</svg>
</body></html>
